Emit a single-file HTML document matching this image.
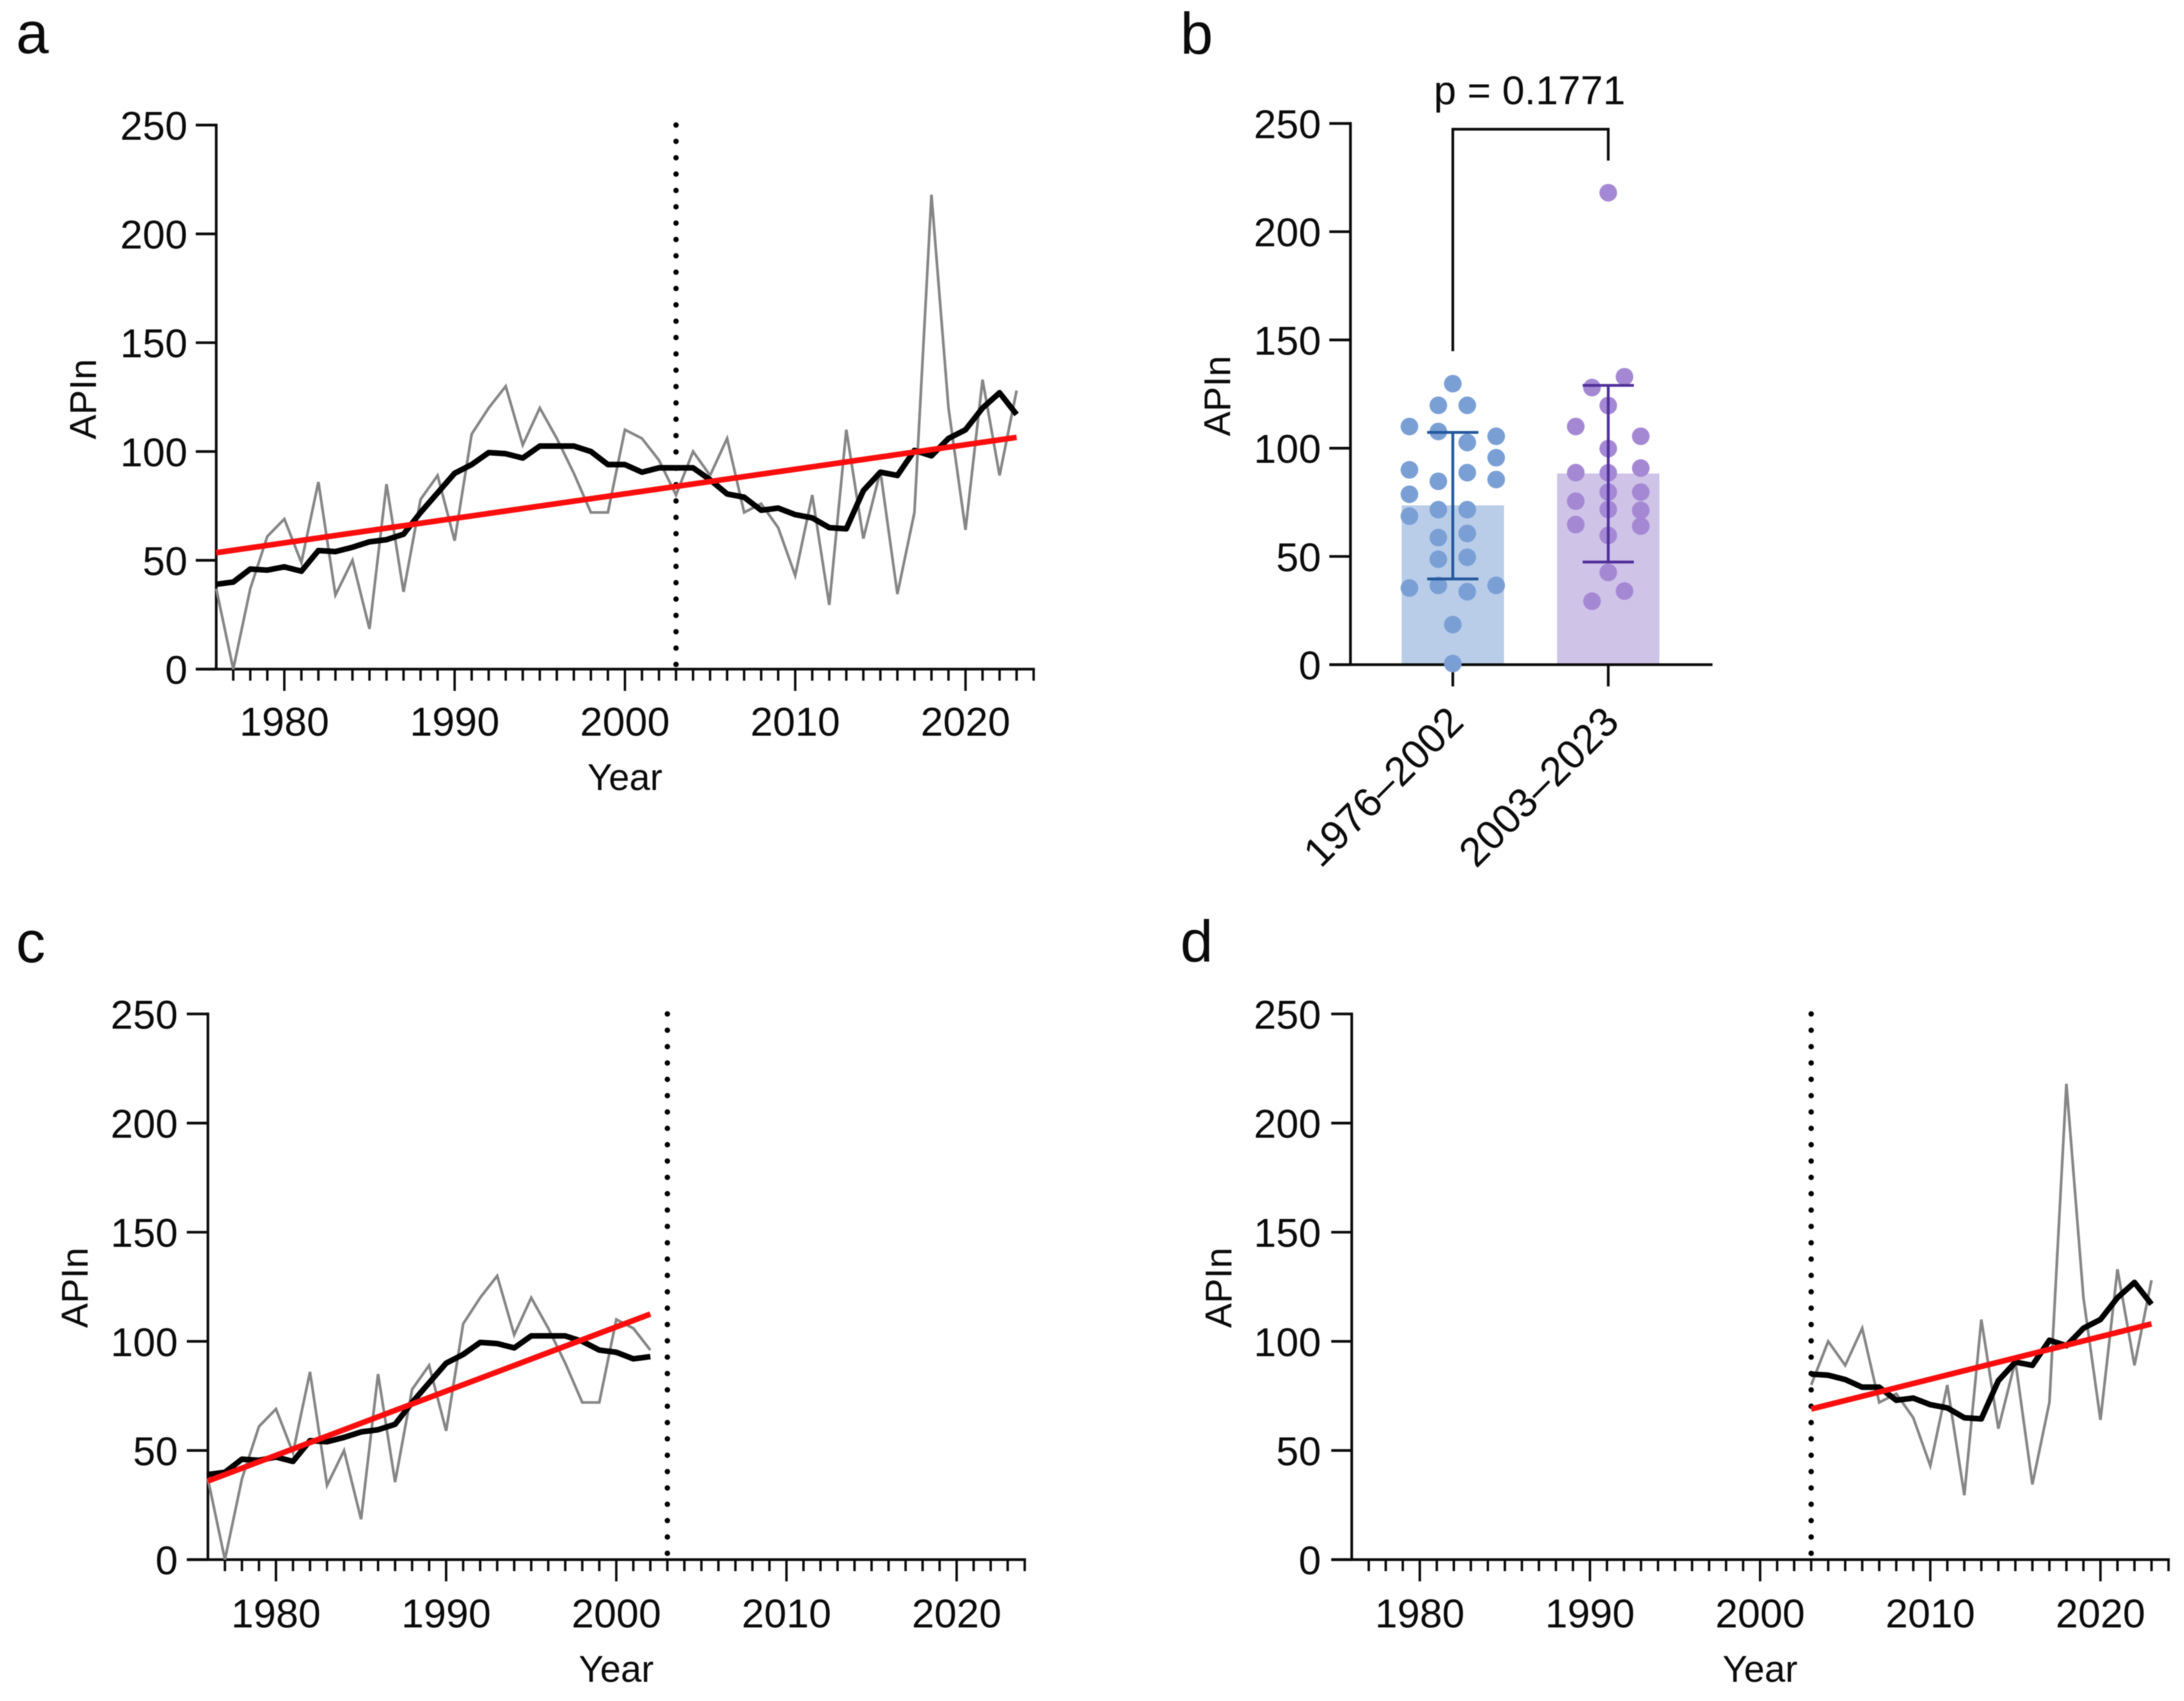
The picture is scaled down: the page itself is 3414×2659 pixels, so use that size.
<!DOCTYPE html>
<html lang="en">
<head>
<meta charset="utf-8">
<title>APIn trends 1976–2023</title>
<style>
html,body{margin:0;padding:0;background:#fff;width:3414px;height:2659px;overflow:hidden}
svg{display:block;filter:blur(0.7px)}
text{font-family:"Liberation Sans",Arial,sans-serif;fill:#0a0a0a}
</style>
</head>
<body>
<svg id="figure" xmlns="http://www.w3.org/2000/svg" width="3414" height="2659" viewBox="0 0 3414 2659">
  <rect width="3414" height="2659" fill="#fff"/>
  <text x="25" y="83" font-size="92">a</text>
  <text x="1845" y="84" font-size="92">b</text>
  <text x="25" y="1504" font-size="92">c</text>
  <text x="1845" y="1503" font-size="92">d</text>
</svg>
<script>
const years = [1976,1977,1978,1979,1980,1981,1982,1983,1984,1985,1986,1987,1988,1989,1990,1991,1992,1993,1994,1995,1996,1997,1998,1999,2000,2001,2002,2003,2004,2005,2006,2007,2008,2009,2010,2011,2012,2013,2014,2015,2016,2017,2018,2019,2020,2021,2022,2023];
const apinAnnual = [37,0,37,61,69,49,86,34,50,18.5,85,35.5,78,89,59,108,120,130,103,120,106,90,72,72,110,106,96,80,100,89,106,72,76,65,43,80,29.5,110,60,91,34.5,72,218,120,64,133,89,128];
const apinMeanFull = [39,40,46,45.5,47,45,54.5,54,56,58.5,59.5,62,72,81,90,94,99.5,99,97,102.5,102.5,102.5,100,94,94,90.5,92.5,92.5,92.5,87,80.5,79,73,74,71,69.5,65,64.5,82,90.5,89,100.5,98,106,110,120,127,117];
const apinMeanEarly = [39,40,46,45.5,47,45,54.5,54,56,58.5,59.5,62,72,81,90,94,99.5,99,97,102.5,102.5,102.5,100,96,95,92,93];
const apinMeanLate = [85,84.5,82.5,79,79,73,74,71,69.5,65,64.5,82,90.5,89,100.5,98,106,110,120,127,117];
const trendFullYears = [1976,2023];
const trendFullValues = [53.5,106.5];
const trendEarlyYears = [1976,2002];
const trendEarlyValues = [36,112.5];
const trendLateYears = [2003,2023];
const trendLateValues = [69,108];
const yTickLabels = [0,50,100,150,200,250];
const xTickLabels = [1980,1990,2000,2010,2020];
const changeYear = 2003;

const groupNames = ["1976–2002","2003–2023"];
const groupMeans = [73.6,88.3];
const groupSdLow = [39.6,47.4];
const groupSdHigh = [107.3,129];
const earlyPointValues = [110,90,78.7,68.6,35.4, 119.8,107.7,84.7,71.6,58.7,48.7,36.6, 129.8,18.5,0.5, 119.8,102.6,88.7,71.6,60.6,49.6,33.7, 105.5,95.6,85.5,36.6];
const earlyPointSlots = [-3,-3,-3,-3,-3, -1,-1,-1,-1,-1,-1,-1, 0,0,0, 1,1,1,1,1,1,1, 3,3,3,3];
const latePointValues = [110,88.7,75.5,64.7, 128,29.3, 218,119.7,99.8,88.6,79.7,71.7,59.7,42.6, 133,34, 105.5,90.8,79.7,71.3,64];
const latePointSlots = [-2,-2,-2,-2, -1,-1, 0,0,0,0,0,0,0,0, 1,1, 2,2,2,2,2];
const pValueLabel = "p = 0.1771";

const svgNS = "http://www.w3.org/2000/svg";
const figure = document.getElementById("figure");

function make(tag, attrs, parent) {
  const el = document.createElementNS(svgNS, tag);
  for (const k in attrs) el.setAttribute(k, attrs[k]);
  (parent || figure).appendChild(el);
  return el;
}
function polylinePoints(xs, ys, xScale, yScale) {
  return xs.map(function (x, i) { return xScale(x) + "," + yScale(ys[i]); }).join(" ");
}

function drawYAxis(g, cfg, yScale) {
  const axis = make("line", {x1: cfg.x0, x2: cfg.x0, y1: yScale(250) - 2.1, y2: yScale(0), stroke: "#0a0a0a", "stroke-width": 4.2}, g);
  
  
  yTickLabels.forEach(function (v) {
    const tick = make("line", {x1: cfg.x0 - cfg.yTick, x2: cfg.x0, y1: yScale(v), y2: yScale(v), stroke: "#0a0a0a", "stroke-width": 4.2}, g);
    
    
    const label = make("text", {x: cfg.yLabelRight, y: yScale(v) + 23, "text-anchor": "end", "font-size": 63}, g);
    
    
    label.textContent = v;
  });
  const title = make("text", {transform: "translate(" + cfg.yTitleX + "," + cfg.yTitleY + ") rotate(-90)", "text-anchor": "middle", "font-size": 58}, g);
  
  
  title.textContent = "APIn";
}

function drawTimePanel(cfg) {
  const g = make("g", {});
  
  
  const xScale = function (year) { return cfg.x0 + (year - 1976) * cfg.xStep; };
  const yScale = function (v) { return cfg.y0 - v * cfg.yStep; };

  const xAxis = make("line", {x1: cfg.x0 - cfg.yTick, x2: xScale(2024) + 2, y1: cfg.y0, y2: cfg.y0, stroke: "#0a0a0a", "stroke-width": 4.2}, g);
  
  
  for (let yr = 1977; yr <= 2024; yr++) {
    const major = xTickLabels.indexOf(yr) >= 0;
    const tick = make("line", {x1: xScale(yr), x2: xScale(yr), y1: cfg.y0, y2: cfg.y0 + (major ? 34 : 18), stroke: "#0a0a0a", "stroke-width": 3.8}, g);
    
    
  }
  xTickLabels.forEach(function (yr) {
    const label = make("text", {x: xScale(yr), y: cfg.xLabelY, "text-anchor": "middle", "font-size": 63}, g);
    
    
    label.textContent = yr;
  });
  const xTitle = make("text", {x: xScale(2000), y: cfg.xLabelY + 85, "text-anchor": "middle", "font-size": 58}, g);
  
  
  xTitle.textContent = "Year";

  drawYAxis(g, cfg, yScale);

  const divider = make("line", {x1: xScale(changeYear), x2: xScale(changeYear), y1: yScale(250), y2: cfg.y0 - 2, stroke: "#000", "stroke-width": 8.5, "stroke-linecap": "round", "stroke-dasharray": "0 25.55"}, g);
  
  

  const annual = make("polyline", {points: polylinePoints(cfg.years, cfg.annual, xScale, yScale), fill: "none", stroke: "#858585", "stroke-width": 4.2, "stroke-linejoin": "miter"}, g);
  
  

  const mean = make("polyline", {points: polylinePoints(cfg.years, cfg.mean, xScale, yScale), fill: "none", stroke: "#000", "stroke-width": 8.8, "stroke-linejoin": "round"}, g);
  
  

  const trend = make("polyline", {points: polylinePoints(cfg.trendYears, cfg.trendValues, xScale, yScale), fill: "none", stroke: "#fb0d0d", "stroke-width": 8.8}, g);
  
  
}

drawTimePanel({name: "panel-a-full-period", x0: 338, y0: 1046, xStep: 26.62, yStep: 3.402, yTick: 32, yLabelRight: 293, xLabelY: 1150, yTitleX: 150, yTitleY: 624,
  years: years, annual: apinAnnual, mean: apinMeanFull, trendYears: trendFullYears, trendValues: trendFullValues});
drawTimePanel({name: "panel-c-early-period", x0: 325, y0: 2438, xStep: 26.6, yStep: 3.412, yTick: 33, yLabelRight: 278, xLabelY: 2544, yTitleX: 137, yTitleY: 2013,
  years: years.slice(0, 27), annual: apinAnnual.slice(0, 27), mean: apinMeanEarly, trendYears: trendEarlyYears, trendValues: trendEarlyValues});
drawTimePanel({name: "panel-d-late-period", x0: 2113, y0: 2438, xStep: 26.6, yStep: 3.412, yTick: 32, yLabelRight: 2065, xLabelY: 2544, yTitleX: 1925, yTitleY: 2013,
  years: years.slice(27), annual: apinAnnual.slice(27), mean: apinMeanLate, trendYears: trendLateYears, trendValues: trendLateValues});

(function drawBarPanel() {
  const cfg = {x0: 2111, y0: 1039, yStep: 3.384, yTick: 33, yLabelRight: 2065, yTitleX: 1923, yTitleY: 619};
  const g = make("g", {});
  
  
  const yScale = function (v) { return cfg.y0 - v * cfg.yStep; };
  const barX = function (i) { return 2271 + i * 243; };
  const barW = 160;
  const barFills = ["#b9cde9", "#cfc3e8"];
  const dotFills = ["#7a9fd5", "#a588d3"];
  const errColors = ["#23589b", "#4f2f9a"];
  const slotUnits = [22.6, 25.4];
  const pointValues = [earlyPointValues, latePointValues];
  const pointSlots = [earlyPointSlots, latePointSlots];

  groupNames.forEach(function (name, i) {
    const bar = make("rect", {x: barX(i) - barW / 2, y: yScale(groupMeans[i]), width: barW, height: yScale(0) - yScale(groupMeans[i]), fill: barFills[i]}, g);
    
    
  });

  const xAxis = make("line", {x1: cfg.x0 - cfg.yTick, x2: 2677, y1: cfg.y0, y2: cfg.y0, stroke: "#0a0a0a", "stroke-width": 4.2}, g);
  
  
  drawYAxis(g, cfg, yScale);

  groupNames.forEach(function (name, i) {
    const tick = make("line", {x1: barX(i), x2: barX(i), y1: cfg.y0, y2: cfg.y0 + 34, stroke: "#0a0a0a", "stroke-width": 4.2}, g);
    
    
    const label = make("text", {transform: "translate(" + (barX(i) + 20) + ",1132) rotate(-45)", "text-anchor": "end", "font-size": 64}, g);
    
    
    label.textContent = name;

    pointValues[i].forEach(function (v, j) {
      const dot = make("circle", {cx: barX(i) + pointSlots[i][j] * slotUnits[i], cy: yScale(v), r: 13.8, fill: dotFills[i]}, g);
      
      
    });

    const errPath = "M" + (barX(i) - 40) + " " + yScale(groupSdHigh[i]) + "H" + (barX(i) + 40) +
      "M" + barX(i) + " " + yScale(groupSdHigh[i]) + "V" + yScale(groupSdLow[i]) +
      "M" + (barX(i) - 40) + " " + yScale(groupSdLow[i]) + "H" + (barX(i) + 40);
    const err = make("path", {d: errPath, fill: "none", stroke: errColors[i], "stroke-width": 4.4}, g);
    
    
  });

  const bracket = make("path", {d: "M" + barX(0) + " 549V202H" + barX(1) + "V251", fill: "none", stroke: "#0a0a0a", "stroke-width": 4.2}, g);
  
  
  const pText = make("text", {x: 2391, y: 163, "text-anchor": "middle", "font-size": 63}, g);
  
  
  pText.textContent = pValueLabel;
})();
</script>
</body>
</html>
